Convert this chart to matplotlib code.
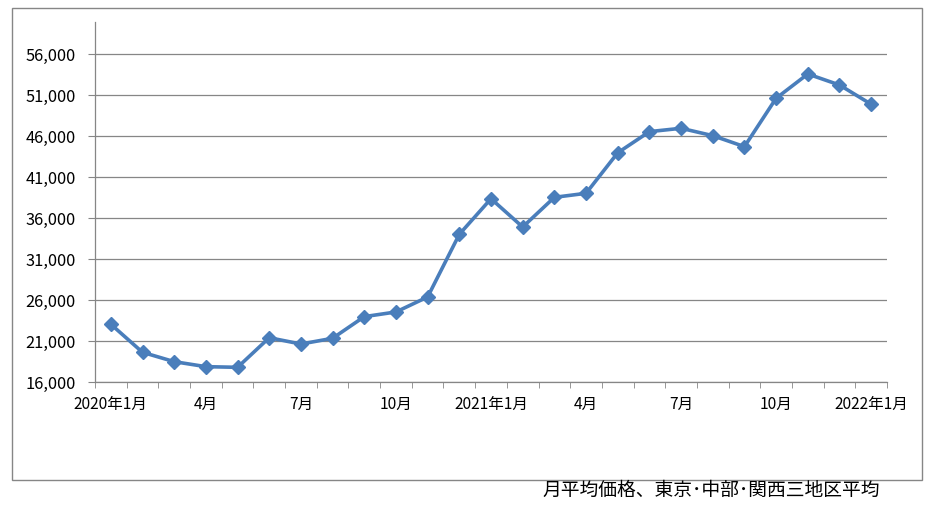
import numpy as np
import matplotlib.pyplot as plt
from matplotlib.patches import Rectangle
from matplotlib.ticker import FuncFormatter

plt.rcParams['font.family'] = ['Noto Sans CJK JP', 'DejaVu Sans']

# monthly average price, 2020-01 .. 2022-01
months = ['2020年1月', '', '', '4月', '', '', '7月', '', '', '10月', '', '',
          '2021年1月', '', '', '4月', '', '', '7月', '', '', '10月', '', '',
          '2022年1月']
prices = [23040, 19620, 18480, 17870, 17790, 21400, 20630, 21330, 23970,
          24540, 26370, 34010, 38350, 34900, 38520, 39010, 43950, 46530,
          46940, 46040, 44700, 50600, 53560, 52220, 49870]
y_ticks = [16000, 21000, 26000, 31000, 36000, 41000, 46000, 51000, 56000]
caption = '月平均価格、東京･中部･関西三地区平均'

GRAY = '#868686'
BLUE = '#4a7ebb'

fig = plt.figure(figsize=(9.3, 5.11), dpi=100)
ax = fig.add_axes([95 / 930, 1 - 382 / 511, (887 - 95) / 930, (382 - 22) / 511])

x = np.arange(len(prices))
ax.plot(x, prices, color=BLUE, linewidth=2.6, marker='D', markersize=7.5,
        markerfacecolor=BLUE, markeredgecolor=BLUE, zorder=3)

ax.set_xlim(-0.5, len(prices) - 0.5)
ax.set_ylim(16000, 59900)

# labels every 3 months centred on points, tick marks between categories
label_pos = [i for i, m in enumerate(months) if m]
ax.set_xticks(label_pos)
ax.set_xticklabels([months[i] for i in label_pos], fontsize=11.2)
ax.set_xticks(np.arange(len(prices) + 1) - 0.5, minor=True)
ax.tick_params(axis='x', which='major', length=0, pad=10)
ax.tick_params(axis='x', which='minor', length=4.5, color=GRAY, direction='out')

ax.set_yticks(y_ticks)
ax.yaxis.set_major_formatter(FuncFormatter(lambda v, p: f'{int(v):,}'))
ax.tick_params(axis='y', length=5, color=GRAY, pad=9, labelsize=11.8)

ax.grid(axis='y', color=GRAY, linewidth=0.9)
ax.set_axisbelow(True)
for side in ['top', 'right']:
    ax.spines[side].set_visible(False)
for side in ['left', 'bottom']:
    ax.spines[side].set_color(GRAY)
    ax.spines[side].set_linewidth(0.9)

# outer chart border
fig.patches.append(Rectangle((11.5 / 930, 1 - 480 / 511), (922 - 11.5) / 930,
                             (480 - 8.5) / 511, transform=fig.transFigure,
                             fill=False, edgecolor=GRAY, linewidth=1))

fig.text(880 / 930, 1 - 490 / 511, caption, fontsize=13.5, ha='right', va='center')

fig.savefig('out.png', dpi=100)
